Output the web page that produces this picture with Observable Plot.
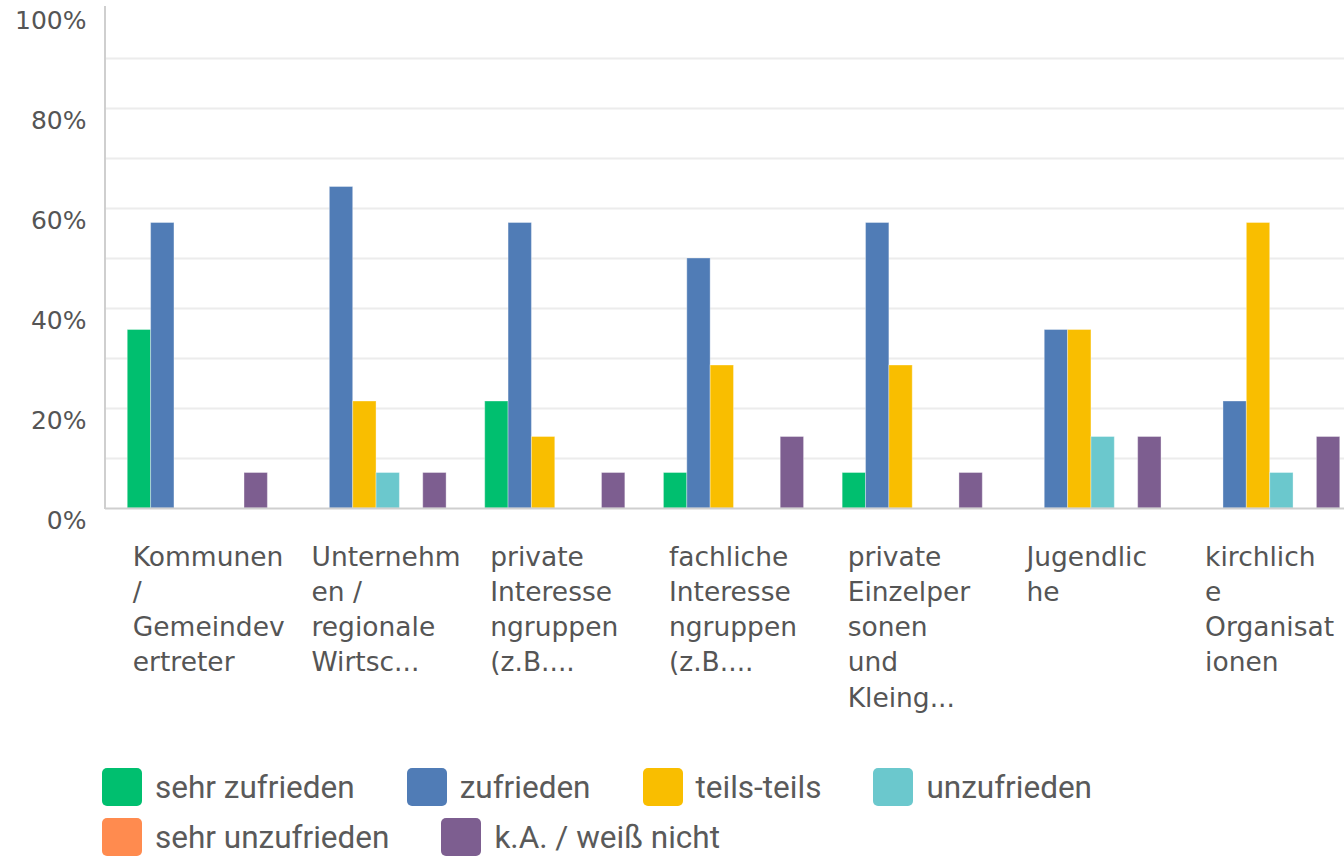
<!DOCTYPE html>
<html>
<head>
<meta charset="utf-8">
<script src="https://cdn.jsdelivr.net/npm/d3@7"></script>
<script src="https://cdn.jsdelivr.net/npm/@observablehq/plot@0.6"></script>
<style>
  html, body { margin: 0; padding: 0; background: #fff; overflow: hidden; width: 1344px; height: 856px; }
  #chart svg { max-width: none !important; display: block; }
  #legend { display: flex; flex-wrap: wrap; column-gap: 52px; row-gap: 12px; padding-left: 102px; margin-top: 23px; width: 1180px;
    font-family: "Roboto", sans-serif; font-size: 31.5px; color: #5a5a5a; }
  .item { display: flex; align-items: center; height: 38px; }
  .sw { width: 40px; height: 38px; border-radius: 5px; margin-right: 13px; }
</style>
</head>
<body>
<div id="chart"></div>
<div id="legend"></div>
<script>
// --- data ---
const categoryLabels = [
  "Kommunen\n/\nGemeindev\nertreter",
  "Unternehm\nen /\nregionale\nWirtsc...",
  "private\nInteresse\nngruppen\n(z.B....",
  "fachliche\nInteresse\nngruppen\n(z.B....",
  "private\nEinzelper\nsonen\nund\nKleing...",
  "Jugendlic\nhe",
  "kirchlich\ne\nOrganisat\nionen"
];
const series = ["sehr zufrieden", "zufrieden", "teils-teils", "unzufrieden", "sehr unzufrieden", "k.A. / weiß nicht"];
const colors = ["#00BF6F", "#507CB6", "#F9BE00", "#6BC8CD", "#FF8B4F", "#7D5E90"];
const sehrZufrieden   = [35.7, 0,    21.4, 7.1,  7.1,  0,    0];
const zufrieden       = [57.1, 64.3, 57.1, 50.0, 57.1, 35.7, 21.4];
const teilsTeils      = [0,    21.4, 14.3, 28.6, 28.6, 35.7, 57.1];
const unzufrieden     = [0,    7.1,  0,    0,    0,    14.3, 7.1];
const sehrUnzufrieden = [0,    0,    0,    0,    0,    0,    0];
const kaWeissNicht    = [7.1,  7.1,  7.1,  14.3, 7.1,  14.3, 14.3];
const yTicks = [0, 20, 40, 60, 80, 100];
const gridTicks = [10, 20, 30, 40, 50, 60, 70, 80, 90];

const seriesValues = [sehrZufrieden, zufrieden, teilsTeils, unzufrieden, sehrUnzufrieden, kaWeissNicht];
const rows = series.flatMap((s, i) => categoryLabels.map((c, j) => ({category: c, series: s, value: seriesValues[i][j]})));

function build(bw) {
  const slot = bw / series.length;
  const n = series.length;
  return Plot.plot({
    width: 1362,
    height: 745,
    marginLeft: 105,
    marginRight: 0,
    marginTop: 8,
    marginBottom: 237,
    style: {fontFamily: "DejaVu Sans", fontSize: "25px", color: "#555", background: "#fff"},
    x: {domain: categoryLabels, paddingInner: 0.216, paddingOuter: 0.1245, round: false, label: null},
    y: {domain: [0, 100], label: null},
    color: {domain: series, range: colors},
    marks: [
      Plot.ruleY(gridTicks, {stroke: "#ececec", strokeWidth: 2}),
      ...series.map((s, i) => Plot.barY(rows.filter(r => r.series === s && r.value > 0), {
        x: "category", y: "value", fill: "series",
        insetLeft: i * slot, insetRight: (n - 1 - i) * slot,
        stroke: "#fff", strokeOpacity: 0.35, strokeWidth: 1
      })),
      Plot.ruleY([0], {stroke: "#cfcfcf", strokeWidth: 2}),
      (index, scales, values, dims) => {
        const y0 = scales.y ? scales.y(0) : dims.height - dims.marginBottom;
        const y1 = scales.y ? scales.y(100) : dims.marginTop;
        return d3.create("svg:line")
          .attr("x1", dims.marginLeft).attr("x2", dims.marginLeft)
          .attr("y1", y1 - 2).attr("y2", y0 + 1)
          .attr("stroke", "#cfcfcf").attr("stroke-width", 2).node();
      },
      Plot.axisY({ticks: yTicks, tickFormat: d => d + "%", tickSize: 0, tickPadding: 19, dy: 12, label: null}),
      Plot.axisX({tickSize: 0, tickPadding: 32, textAnchor: "start", dx: -(bw / 2 - 5), lineHeight: 1.33, fontSize: 26.5, label: null})
    ]
  });
}

let plot = build(140);
const bw = plot.scale("x").bandwidth;
plot = build(bw);
document.getElementById("chart").appendChild(plot);

const legend = document.getElementById("legend");
series.forEach((s, i) => {
  const it = document.createElement("div");
  it.className = "item";
  const sw = document.createElement("div");
  sw.className = "sw";
  sw.style.background = colors[i];
  const t = document.createElement("span");
  t.textContent = s;
  it.appendChild(sw);
  it.appendChild(t);
  legend.appendChild(it);
});
</script>
</body>
</html>
